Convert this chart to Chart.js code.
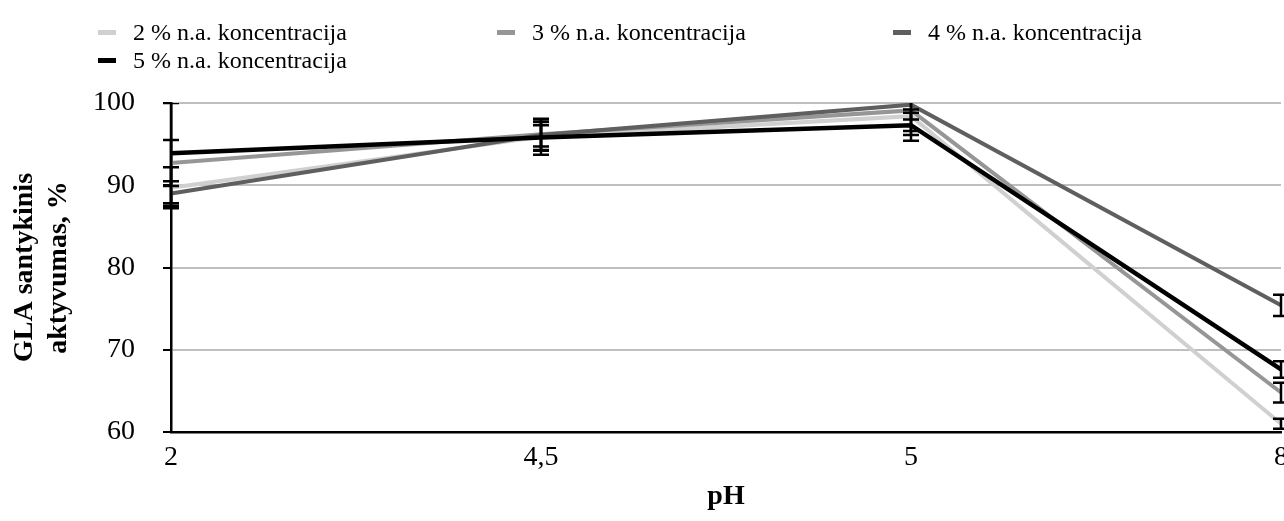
<!DOCTYPE html>
<html>
<head>
<meta charset="utf-8">
<script src="https://cdn.jsdelivr.net/npm/chart.js@4/dist/chart.umd.min.js"></script>
<style>
  html, body { margin: 0; padding: 0; background: #fff; overflow: hidden; }
  #wrap { position: relative; width: 1284px; height: 521px; overflow: hidden; }
  #box { position: absolute; left: 0; top: 0; width: 1297px; height: 521px; }
  #legend { position: absolute; left: 0; top: 0; width: 1284px; height: 80px; z-index: 2;
            font-family: "Liberation Serif", "Times New Roman", serif; font-size: 24px; color: #000; }
  .item { position: absolute; display: flex; align-items: center; white-space: nowrap; line-height: 28px; }
  .sw { display: inline-block; width: 18px; height: 5px; margin-right: 17px; }
</style>
</head>
<body>
<div id="wrap">
  <div id="box"><canvas id="chart"></canvas></div>
  <div id="legend"></div>
</div>
<script>
// pH categories
const phLabels = ["2", "4,5", "5", "8"];

// relative GLA activity, %
const conc2 = [89.7, 95.9, 98.4, 61.0];
const conc3 = [92.7, 96.2, 99.1, 64.8];
const conc4 = [89.0, 96.1, 99.8, 75.4];
const conc5 = [93.9, 95.8, 97.3, 67.6];

// error bar half-lengths
const err2 = [2.5, 2.2, 0.4, 0.6];
const err3 = [2.8, 1.5, 3.0, 1.2];
const err4 = [1.5, 1.9, 3.2, 1.3];
const err5 = [6.1, 1.5, 1.9, 1.0];

const seriesLabels = [
  "2 % n.a. koncentracija",
  "3 % n.a. koncentracija",
  "4 % n.a. koncentracija",
  "5 % n.a. koncentracija"
];
const yTicks = [60, 70, 80, 90, 100];

const colors = ["#d0d0d0", "#969696", "#5f5f5f", "#000000"];
const widths = [4, 4, 4, 4.5];
const serif = "'Liberation Serif', 'Times New Roman', serif";

// legend (html, Excel-like placement)
const legendPos = [[98, 18], [497, 18], [893, 18], [98, 46]];
const legendEl = document.getElementById("legend");
seriesLabels.forEach((lab, i) => {
  const it = document.createElement("div");
  it.className = "item";
  it.style.left = legendPos[i][0] + "px";
  it.style.top = legendPos[i][1] + "px";
  const sw = document.createElement("span");
  sw.className = "sw";
  sw.style.background = colors[i];
  it.appendChild(sw);
  it.appendChild(document.createTextNode(lab));
  legendEl.appendChild(it);
});

// error bars drawn on top of the lines
const errorBars = {
  id: "errorBars",
  afterDatasetsDraw(chart) {
    const { ctx, chartArea, scales: { x, y } } = chart;
    ctx.save();
    ctx.beginPath();
    ctx.rect(chartArea.left - 20, chartArea.top, chartArea.width + 40, chartArea.height);
    ctx.clip();
    ctx.strokeStyle = "#000";
    ctx.lineWidth = 2.5;
    chart.data.datasets.forEach((ds) => {
      ds.errors.forEach((e, i) => {
        const px = x.getPixelForValue(i);
        const top = y.getPixelForValue(ds.data[i] + e);
        const bot = y.getPixelForValue(ds.data[i] - e);
        ctx.beginPath();
        ctx.moveTo(px, top); ctx.lineTo(px, bot);
        ctx.moveTo(px - 8, top); ctx.lineTo(px + 8, top);
        ctx.moveTo(px - 8, bot); ctx.lineTo(px + 8, bot);
        ctx.stroke();
      });
    });
    ctx.restore();
  }
};

const values = [conc2, conc3, conc4, conc5];
const errors = [err2, err3, err4, err5];

new Chart(document.getElementById("chart"), {
  type: "line",
  data: {
    labels: phLabels,
    datasets: values.map((v, i) => ({
      label: seriesLabels[i],
      data: v,
      errors: errors[i],
      borderColor: colors[i],
      backgroundColor: colors[i],
      borderWidth: widths[i],
      pointRadius: 0,
      tension: 0,
      fill: false,
      order: 3 - i
    }))
  },
  options: {
    responsive: true,
    maintainAspectRatio: false,
    animation: false,
    layout: { padding: { top: 103, left: 0, right: 0, bottom: 0 } },
    plugins: {
      legend: { display: false },
      tooltip: { enabled: false }
    },
    scales: {
      x: {
        offset: false,
        grid: { display: false, drawTicks: false },
        border: { display: true, color: "#000", width: 2.5 },
        ticks: { color: "#000", font: { family: serif, size: 28 }, padding: 9, maxRotation: 0, autoSkip: false },
        title: { display: true, text: "pH", color: "#000", font: { family: serif, size: 28, weight: "bold" }, padding: { top: 0, bottom: 7 } },
        afterFit(scale) { scale.height = 89; }
      },
      y: {
        min: 60,
        max: 100,
        afterBuildTicks(scale) { scale.ticks = yTicks.map(v => ({ value: v })); },
        grid: { color: "#bfbfbf", lineWidth: 2, tickColor: "#000", tickLength: 8, drawTicks: true },
        border: { display: true, color: "#000", width: 2.5 },
        ticks: { color: "#000", font: { family: serif, size: 28 }, padding: 28 },
        title: { display: true, text: ["GLA santykinis", "aktyvumas, %"], color: "#000",
                 font: { family: serif, size: 28, weight: "bold" }, padding: { top: 8, bottom: 0 } },
        afterFit(scale) { scale.width = 171; }
      }
    }
  },
  plugins: [errorBars]
});
</script>
</body>
</html>
